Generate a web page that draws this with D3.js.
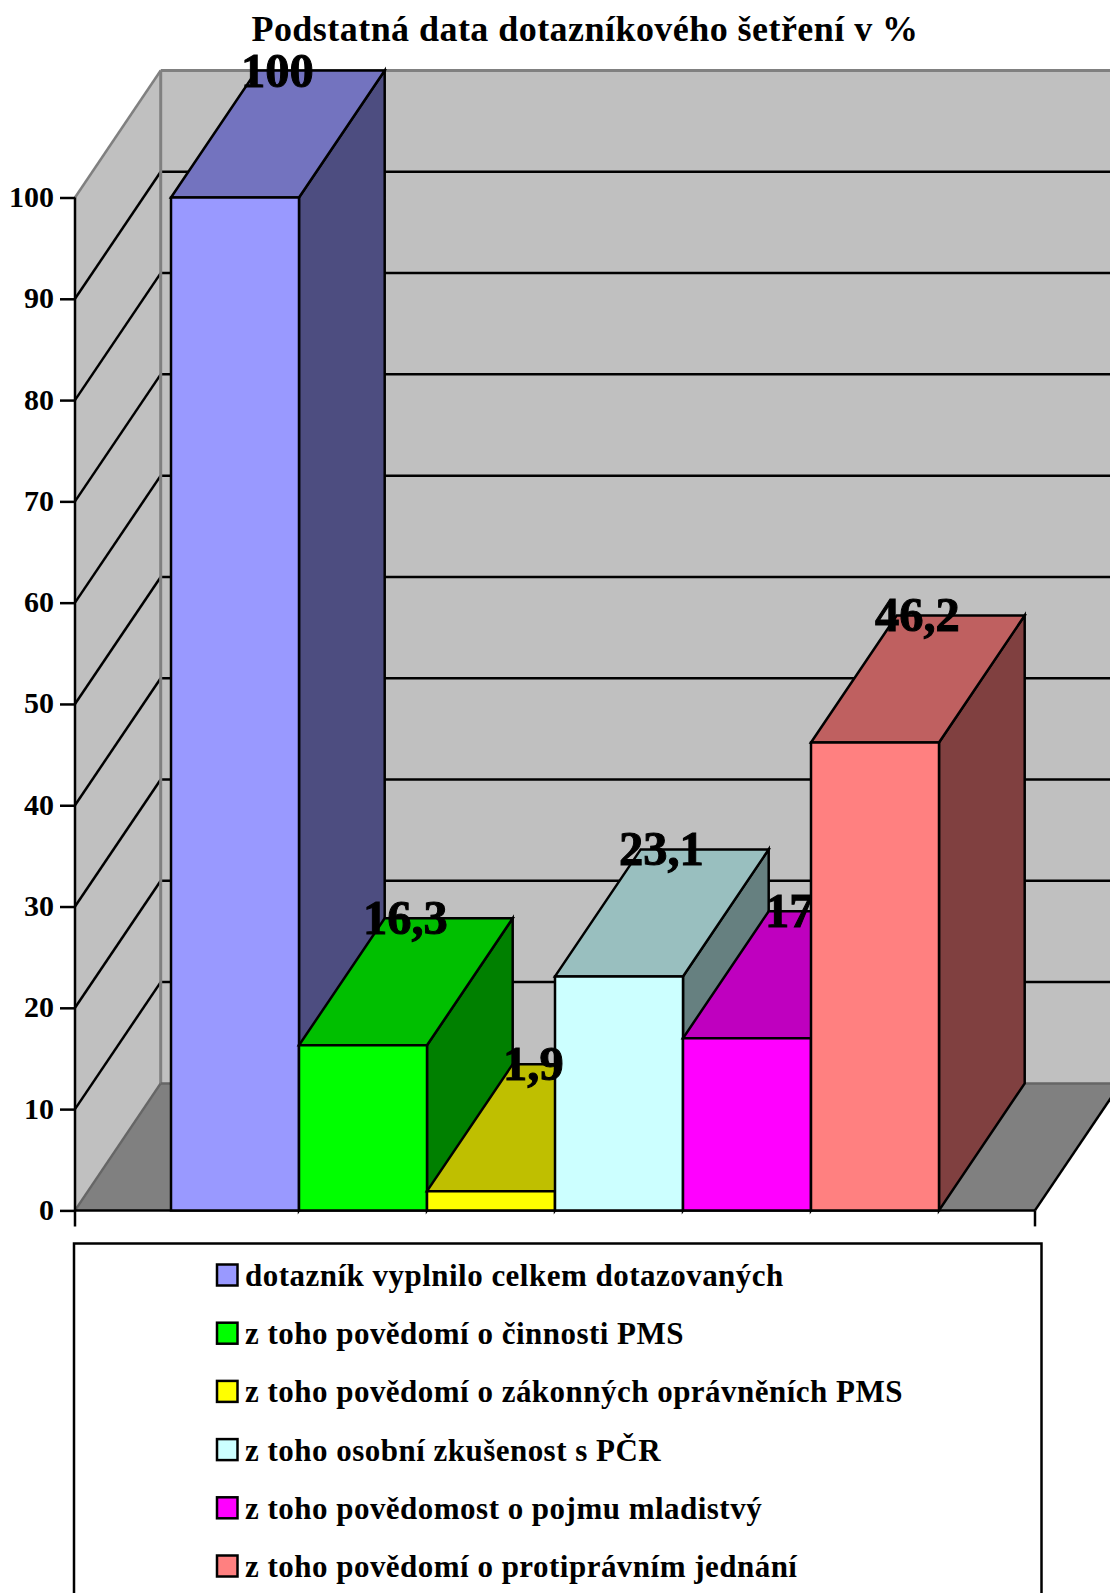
<!DOCTYPE html>
<html><head><meta charset="utf-8">
<script src="https://cdn.jsdelivr.net/npm/d3@7"></script>
<style>
html,body{margin:0;padding:0;background:#fff;overflow:hidden}
svg{display:block}
text{font-family:"Liberation Serif","Times New Roman",serif;font-weight:bold;fill:#000}
</style></head><body>
<div id="chart"></div>
<script>
const titleText = "Podstatná data dotazníkového šetření v %";
const categories = ["dotazník vyplnilo celkem dotazovaných","z toho povědomí o činnosti PMS","z toho povědomí o zákonných oprávněních PMS","z toho osobní zkušenost s PČR","z toho povědomost o pojmu mladistvý","z toho povědomí o protiprávním jednání"];
const values = [100,16.3,1.9,23.1,17,46.2];
const valueLabels = ["100","16,3","1,9","23,1","17","46,2"];
const frontColors = ["#9999ff","#00ff00","#ffff00","#ccffff","#ff00ff","#ff8080"];
const topColors = ["#7373bf","#00bf00","#bfbf00","#99bfbf","#bf00bf","#bf6060"];
const sideColors = ["#4d4d80","#008000","#808000","#668080","#800080","#804040"];
const yTicks = [0,10,20,30,40,50,60,70,80,90,100];

const W=1110,H=1593;
const svg=d3.select("#chart").append("svg").attr("width",W).attr("height",H);
const x0=75,x1=1035,dx=85.7,dy=127;
const y=d3.scaleLinear().domain([0,100]).range([1210.4,197.5]);
const x=d3.scaleBand().domain(categories).range([x0,x1]).paddingOuter(0.75).paddingInner(0);
const SW=2.5;
const poly=(pts,fill,stroke,sw)=>svg.append("polygon").attr("points",pts.map(p=>p.join(",")).join(" "))
  .attr("fill",fill).attr("stroke",stroke||"none").attr("stroke-width",sw||0).attr("stroke-linejoin","miter");
const line=(a,b,stroke,sw)=>svg.append("line").attr("x1",a[0]).attr("y1",a[1]).attr("x2",b[0]).attr("y2",b[1]).attr("stroke",stroke).attr("stroke-width",sw);

// walls and floor
const y0=y(0),yT=y(100);
poly([[x0,y0],[x0+dx,y0-dy],[x1+dx,y0-dy],[x1,y0]],"#808080");
poly([[x0+dx,y0-dy],[x0+dx,yT-dy],[x1+dx,yT-dy],[x1+dx,y0-dy]],"#c0c0c0");
poly([[x0,y0],[x0,yT],[x0+dx,yT-dy],[x0+dx,y0-dy]],"#c0c0c0");
// gridlines
yTicks.filter(t=>t>0&&t<100).forEach(t=>{
  line([x0,y(t)],[x0+dx,y(t)-dy],"#000",SW);
  line([x0+dx,y(t)-dy],[x1+dx,y(t)-dy],"#000",SW);
});
line([x0,yT],[x0+dx,yT-dy],"#808080",SW);
line([x0+dx,yT-dy],[x1+dx,yT-dy],"#808080",3);
line([x0+dx,yT-dy],[x0+dx,y0-dy],"#808080",3);
line([x0+dx,y0-dy],[x1+dx,y0-dy],"#666",SW);
line([x0,y0],[x0+dx,y0-dy],"#666",SW);
line([x1,y0],[x1+dx,y0-dy],"#000",SW);

// y axis
const yAxisG=svg.append("g").attr("transform",`translate(${x0},0)`)
  .call(d3.axisLeft(y).tickValues(yTicks).tickSize(15).tickPadding(6));
yAxisG.select(".domain").remove();
yAxisG.selectAll(".tick line").attr("stroke","#000").attr("stroke-width",SW);
yAxisG.selectAll(".tick text").attr("font-size",30).attr("font-family",null).attr("dy","0.3em");
yAxisG.attr("font-family",null);
line([x0,yT],[x0,y0+16],"#000",SW);
line([x0,y0],[x1,y0],"#000",SW);
line([x1,y0],[x1,y0+16],"#000",SW);

// bars
const bw=x.bandwidth();
function bar(i){
  const l=x(categories[i]),r=l+bw,t=y(values[i]);
  poly([[r,y0],[r,t],[r+dx,t-dy],[r+dx,y0-dy]],sideColors[i],"#000",SW);
  poly([[l,t],[l+dx,t-dy],[r+dx,t-dy],[r,t]],topColors[i],"#000",SW);
  poly([[l,y0],[l,t],[r,t],[r,y0]],frontColors[i],"#000",SW);
}
function label(i){
  const l=x(categories[i]);
  svg.append("text").attr("x",l+bw/2+dx/2-0.5).attr("y",y(values[i])-dy+16)
    .attr("text-anchor","middle").attr("font-size",48.5).attr("stroke","#000").attr("stroke-width",1).text(valueLabels[i]);
}
[0,1,2,3,4].forEach(bar);
[0,1,2,3,4].forEach(label);
bar(5);label(5);

// title
svg.append("text").attr("x",585).attr("y",41).attr("text-anchor","middle").attr("font-size",36).attr("letter-spacing",0.45).text(titleText);

// legend
svg.append("rect").attr("x",74).attr("y",1243.5).attr("width",967.5).attr("height",H).attr("fill","#fff").attr("stroke","#000").attr("stroke-width",SW);
const rowY=d3.scalePoint().domain(categories).range([1275,1566]);
const lg=svg.append("g").selectAll("g").data(categories).join("g").attr("transform",d=>`translate(0,${rowY(d)})`);
lg.append("rect").attr("x",217).attr("y",-10.5).attr("width",20.5).attr("height",21)
  .attr("fill",(d,i)=>frontColors[i]).attr("stroke","#000").attr("stroke-width",SW);
lg.append("text").attr("x",245).attr("y",11).attr("font-size",31).attr("letter-spacing",0.48).text(d=>d);
</script>
</body></html>
